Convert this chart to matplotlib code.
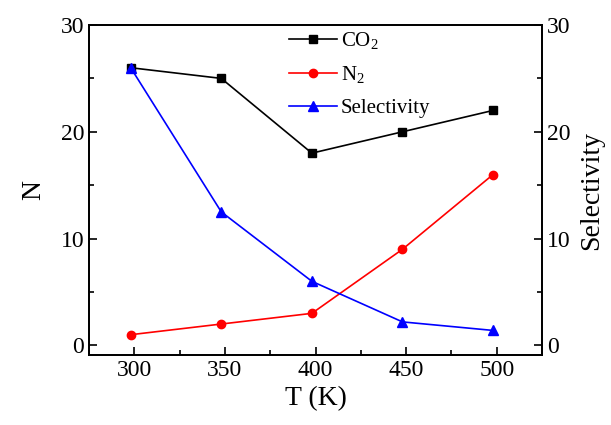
import numpy as np
import matplotlib.pyplot as plt
from matplotlib.ticker import MultipleLocator

from matplotlib import rcParams
rcParams['font.family'] = 'serif'
rcParams['font.serif'] = ['Liberation Serif', 'DejaVu Serif']
rcParams['mathtext.fontset'] = 'custom'
rcParams['mathtext.rm'] = 'Liberation Serif'
rcParams['font.size'] = 17

T = [298, 348, 398, 448, 498]
co2 = [26, 25, 18, 20, 22]
n2 = [1, 2, 3, 9, 16]
selectivity = [26, 12.5, 6, 2.2, 1.4]

fig = plt.figure(figsize=(6.11, 4.25), dpi=100)
ax = fig.add_axes([89/611, 70/425, 453/611, 330/425])
ax2 = ax.twinx()

l1, = ax.plot(T, co2, color='black', marker='s', markersize=5.5, lw=1.2, label=r'CO$_2$')
l2, = ax.plot(T, n2, color='red', marker='o', markersize=6, lw=1.2, label=r'N$_2$')
l3, = ax2.plot(T, selectivity, color='blue', marker='^', markersize=6.5, lw=1.2, label='Selectivity')

for a in (ax, ax2):
    a.set_ylim(-0.9, 30)
    a.yaxis.set_major_locator(MultipleLocator(10))
    a.yaxis.set_minor_locator(MultipleLocator(5))
    a.tick_params(which='both', direction='in', width=1.2, labelsize=17)
    a.tick_params(which='major', length=6)
    a.tick_params(which='minor', length=3.5)
    for s in a.spines.values():
        s.set_linewidth(1.3)

ax.set_xlim(275, 525)
ax.xaxis.set_major_locator(MultipleLocator(50))
ax.xaxis.set_minor_locator(MultipleLocator(25))

ax.set_xlabel('T (K)', fontsize=20, labelpad=4)
ax.set_ylabel('N', fontsize=20, labelpad=10)
ax2.set_ylabel('Selectivity', fontsize=20, labelpad=6)

ax.legend(handles=[l1, l2, l3], loc='upper left', bbox_to_anchor=(0.4, 1.04),
          frameon=False, fontsize=15, handlelength=2.3, handletextpad=0.2,
          labelspacing=0.6)

plt.savefig('out.png', dpi=100)
